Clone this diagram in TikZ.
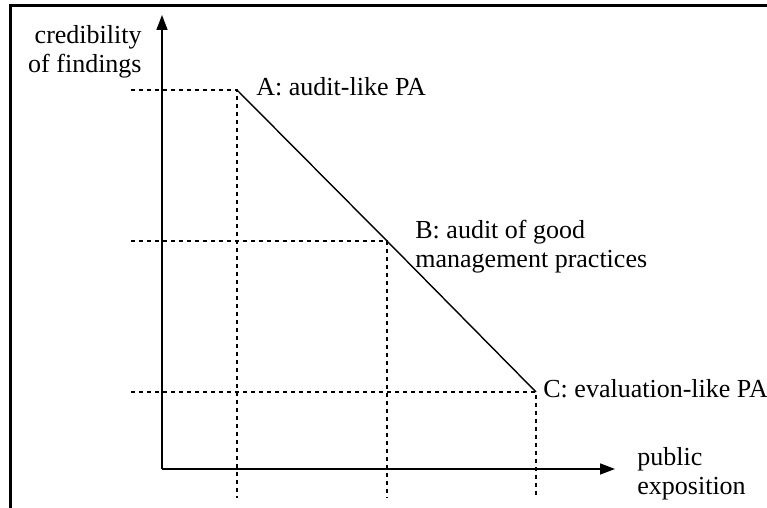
\documentclass[tikz,border=0pt]{standalone}
\usepackage{fontspec}
\setmainfont{Liberation Serif}
\usetikzlibrary{arrows.meta}
\tikzset{
  frame/.style={line width=1.3pt,black},
  axis/.style={-{Triangle[length=7.5pt,width=5.5pt]},line width=0.75pt,black},
  trend/.style={line width=0.7pt,black},
  guide/.style={dash pattern=on 2pt off 2pt,line width=0.6pt,black},
  lbl/.style={font=\fontsize{13}{14.7}\selectfont,inner sep=0pt},
}

\begin{document}
\begin{tikzpicture}[x=0.5pt,y=0.5pt]
  \useasboundingbox (0,0) rectangle (767,508);
  % outer frame (only top and left edge visible)
  \draw[frame] (10.5,0) -- (10.5,502.7) -- (767,502.7);
  % axes
  \coordinate (O) at (162,39);
  \coordinate (ytop) at (162,493);
  \coordinate (xend) at (615,39);
  \draw[axis] (O) -- (ytop);
  \draw[axis] (O) -- (xend);
  % the three points
  \coordinate (A) at (237,418);
  \coordinate (B) at (387,267);
  \coordinate (C) at (536,116);
  \coordinate (Ay) at (131,418); \coordinate (Ax) at (237,10);
  \coordinate (By) at (131,267); \coordinate (Bx) at (387,10);
  \coordinate (Cy) at (131,116); \coordinate (Cx) at (536,10);
  \draw[guide] (Ay) -- (A) -- (Ax);
  \draw[guide] (By) -- (B) -- (Bx);
  \draw[guide] (Cy) -- (C) -- (Cx);
  \draw[trend] (A) -- (B) -- (C);
  % labels (base of a two-line node is its last line)
  \node[lbl,anchor=base west] (labA) at (256,412) {A: audit-like PA};
  \node[lbl,anchor=base west,align=left] (labB) at (415,240) {B: audit of good\\management practices};
  \node[lbl,anchor=base west] (labC) at (543,110) {C: evaluation-like PA};
  \node[lbl,anchor=base east,align=right] (ylab) at (142,435) {credibility\\of findings};
  \node[lbl,anchor=base west,align=left] (xlab) at (637,13) {public\\exposition};
\end{tikzpicture}
\end{document}
